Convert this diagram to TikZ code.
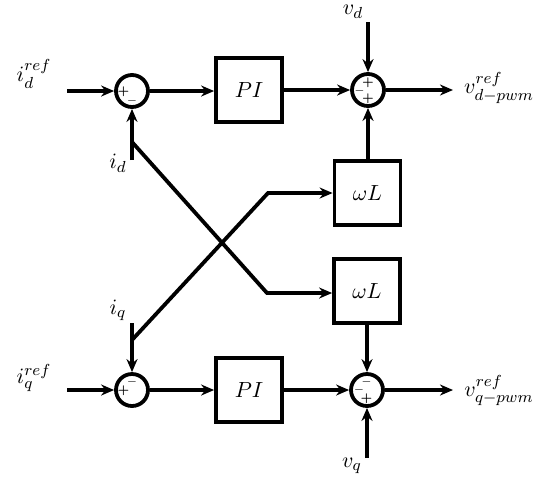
\documentclass[tikz,border=0pt]{standalone}
\usetikzlibrary{arrows.meta}
\begin{document}
\begin{tikzpicture}[x=0.5pt,y=-0.5pt,
  line width=1.9pt,
  sig/.style={-{Stealth[length=6.5pt,width=5.5pt]}},
  sumnode/.style={circle,draw,line width=1.9pt,minimum size=16pt,inner sep=0pt},
  blk/.style={rectangle,draw,line width=1.9pt,minimum width=33pt,minimum height=32pt,inner sep=0pt,font=\fontsize{11}{13}\selectfont},
  lbl/.style={inner sep=0pt,font=\fontsize{11}{13}\selectfont},
  sgn/.style={inner sep=0pt,font=\fontsize{5.5}{6}\selectfont\bfseries}]
\useasboundingbox (0,0) rectangle (550,483);
% blocks
\node[sumnode] (s1) at (132,91) {};
\node[blk] (pi1) at (249,90) {$PI$};
\node[sumnode] (s2) at (368,90) {};
\node[blk] (wl1) at (367.5,193) {$\omega L$};
\node[blk] (wl2) at (367,291) {$\omega L$};
\node[sumnode] (s3) at (132,390) {};
\node[blk] (pi2) at (249,390) {$PI$};
\node[sumnode] (s4) at (367,390) {};
% coordinates
\coordinate (in1) at (67,91);
\coordinate (in2) at (67,390);
\coordinate (out1) at (453,90);
\coordinate (out2) at (453,390);
\coordinate (vdtop) at (368,22);
\coordinate (vqbot) at (367,458);
\coordinate (idstart) at (132,160);
\coordinate (idbranch) at (132,142);
\coordinate (idbend) at (267,293);
\coordinate (iqstart) at (132,323);
\coordinate (iqbranch) at (132,340);
\coordinate (iqbend) at (268,193);
% connections
\draw[sig] (in1) -- (s1);
\draw[sig] (s1) -- (pi1.west |- s1);
\draw[sig] (pi1.east |- s2) -- (s2);
\draw[sig] (s2) -- (out1);
\draw[sig] (vdtop) -- (s2);
\draw[sig] (wl1.north -| s2) -- (s2);
\draw[sig] (idstart) -- (s1);
\draw[sig] (idbranch) -- (idbend) -- (wl2.west |- idbend);
\draw[sig] (iqbranch) -- (iqbend) -- (wl1.west |- iqbend);
\draw[sig] (iqstart) -- (s3);
\draw[sig] (in2) -- (s3);
\draw[sig] (s3) -- (pi2);
\draw[sig] (pi2) -- (s4);
\draw[sig] (s4) -- (out2);
\draw[sig] (wl2) -- (s4);
\draw[sig] (vqbot) -- (s4);
% labels
\node[lbl] (lidref) at (34,74) {$i_d^{ref}$};
\node[lbl] (liqref) at (34,378) {$i_q^{ref}$};
\node[lbl] (lvd) at (353,12) {$v_d$};
\node[lbl] (lvq) at (352,466) {$v_q$};
\node[lbl] (lvdo) at (499,88) {$v_{d-pwm}^{ref}$};
\node[lbl] (lvqo) at (499,390) {$v_{q-pwm}^{ref}$};
\node[lbl] (lid) at (118,163) {$i_d$};
\node[lbl] (liq) at (118,310) {$i_q$};
% signs
\node[sgn] (a1) at (123.5,92) {+};
\node[sgn] (a2) at (132,100.5) {$-$};
\node[sgn] (b1) at (368,82.5) {+};
\node[sgn] (b2) at (359.5,90.5) {$-$};
\node[sgn] (b3) at (368,99) {+};
\node[sgn] (c1) at (132,382) {$-$};
\node[sgn] (c2) at (123.5,391) {+};
\node[sgn] (d1) at (366.5,381.5) {$-$};
\node[sgn] (d2) at (359,390) {$-$};
\node[sgn] (d3) at (366.5,399) {+};
\end{tikzpicture}
\end{document}
